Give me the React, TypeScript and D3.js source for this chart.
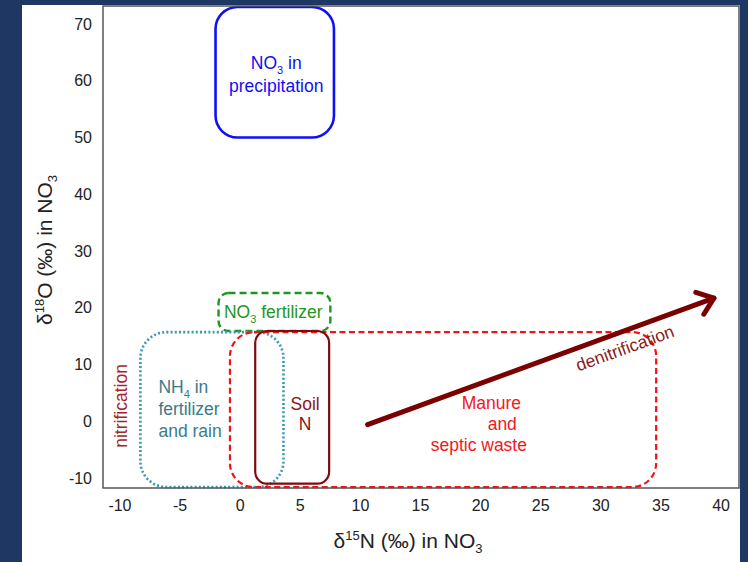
import React from "react";
import * as d3 from "d3";

const W = 748, H = 562;
const xTicks = [-10, -5, 0, 5, 10, 15, 20, 25, 30, 35, 40];
const yTicks = [-10, 0, 10, 20, 30, 40, 50, 60, 70];
const xDomain = [-11.41, 41.49];
const yDomain = [-11.76, 73.17];

// source regions: [x0, x1, y0, y1] in per-mil
const regionNames = ["precip", "fert", "nh4", "manure", "soil"];
const regionX0 = [-2.05, -1.8, -8.3, -0.85, 1.25];
const regionX1 = [7.8, 7.5, 3.6, 34.6, 7.4];
const regionY0 = [50, 15.9, -11.6, -11.6, -11.0];
const regionY1 = [73.0, 22.6, 15.7, 15.7, 15.9];

const arrowStart = [10.6, -0.6];
const arrowEnd = [39.4, 21.7];

const FONT = "'Liberation Sans', Arial, Helvetica, sans-serif";

export default function App() {
  const x = d3.scaleLinear().domain(xDomain).range([103, 739]);
  const y = d3.scaleLinear().domain(yDomain).range([488, 6]);

  const styles: Record<string, any> = {
    precip: { stroke: "#1010f5", sw: 2.6, dash: null, rx: 22 },
    fert: { stroke: "#1f961f", sw: 2.4, dash: "7 4", rx: 10 },
    nh4: { stroke: "#3d96b3", sw: 2.6, dash: "2 2.2", rx: 26 },
    manure: { stroke: "#f0141a", sw: 2.2, dash: "6 3.5", rx: 24 },
    soil: { stroke: "#7d0c0c", sw: 2.2, dash: null, rx: 12 },
  };

  const ax = x(arrowStart[0]), ay = y(arrowStart[1]);
  const bx = x(arrowEnd[0]), by = y(arrowEnd[1]);
  const ang = Math.atan2(by - ay, bx - ax);
  const wing = 19, wa = (38 * Math.PI) / 180;
  const w1 = [bx - wing * Math.cos(ang - wa), by - wing * Math.sin(ang - wa)];
  const w2 = [bx - wing * Math.cos(ang + wa), by - wing * Math.sin(ang + wa)];
  const angDeg = (ang * 180) / Math.PI;

  return (
    <svg width={W} height={H} style={{ position: "absolute", left: 0, top: 0 }} fontFamily={FONT}>
      <rect x={0} y={0} width={W} height={H} fill="#1f3763" />
      <rect x={22} y={5} width={718} height={H - 5} fill="#ffffff" />

      {/* regions */}
      {regionNames.map((n, i) => {
        const s = styles[n];
        const x0 = x(regionX0[i]), x1 = x(regionX1[i]);
        const y0 = y(regionY1[i]), y1 = y(regionY0[i]);
        return (
          <rect key={n} x={x0} y={y0} width={x1 - x0} height={y1 - y0} rx={s.rx} ry={s.rx}
            fill="none" stroke={s.stroke} strokeWidth={s.sw}
            strokeDasharray={s.dash || undefined} strokeLinecap={n === "nh4" ? "butt" : "butt"} />
        );
      })}

      {/* frame */}
      <rect x={103} y={6} width={636} height={482} fill="none" stroke="#555" strokeWidth={1.5} />

      {/* ticks */}
      {xTicks.map((t) => (
        <text key={"x" + t} x={x(t)} y={511} textAnchor="middle" fontSize={16} fill="#222">{t}</text>
      ))}
      {yTicks.map((t) => (
        <text key={"y" + t} x={92} y={y(t)} dy="0.35em" textAnchor="end" fontSize={16} fill="#222">{t}</text>
      ))}

      {/* axis titles */}
      <text x={408} y={548} textAnchor="middle" fontSize={21} fill="#222">
        δ<tspan fontSize={13} dy={-8}>15</tspan><tspan dy={8}>N (‰) in NO</tspan><tspan fontSize={13} dy={5}>3</tspan>
      </text>
      <text transform={`translate(52,250) rotate(-90)`} textAnchor="middle" fontSize={21} fill="#222">
        δ<tspan fontSize={13} dy={-8}>18</tspan><tspan dy={8}>O (‰) in NO</tspan><tspan fontSize={13} dy={5}>3</tspan>
      </text>

      {/* arrow */}
      <g stroke="#7b0000" strokeWidth={5} fill="none" strokeLinecap="round" strokeLinejoin="round">
        <line x1={ax} y1={ay} x2={bx} y2={by} />
        <polyline points={`${w1[0]},${w1[1]} ${bx},${by} ${w2[0]},${w2[1]}`} />
      </g>

      {/* labels */}
      <g fontSize={17.5}>
        <text x={x(3.0)} y={y(63.1)} dy="0.35em" textAnchor="middle" fill="#1010f5">
          NO<tspan fontSize={11} dy={5}>3</tspan><tspan dy={-5}> in</tspan>
        </text>
        <text x={x(3.0)} y={y(59.1)} dy="0.35em" textAnchor="middle" fill="#1010f5">precipitation</text>

        <text x={x(2.75)} y={y(19.3)} dy="0.35em" textAnchor="middle" fill="#1f961f">
          NO<tspan fontSize={11} dy={5}>3</tspan><tspan dy={-5}> fertilizer</tspan>
        </text>

        <text x={x(-6.8)} y={y(6.03)} dy="0.35em" fill="#3a7b8a">
          NH<tspan fontSize={11} dy={5}>4</tspan><tspan dy={-5}> in</tspan>
        </text>
        <text x={x(-6.8)} y={y(2.16)} dy="0.35em" fill="#3a7b8a">fertilizer</text>
        <text x={x(-6.8)} y={y(-1.72)} dy="0.35em" fill="#3a7b8a">and rain</text>

        <text x={x(20.9)} y={y(3.2)} dy="0.35em" textAnchor="middle" fill="#f5161c">Manure</text>
        <text x={x(21.8)} y={y(-0.5)} dy="0.35em" textAnchor="middle" fill="#f5161c">and</text>
        <text x={x(19.85)} y={y(-4.19)} dy="0.35em" textAnchor="middle" fill="#f5161c">septic waste</text>

        <text x={x(5.4)} y={y(3.04)} dy="0.35em" textAnchor="middle" fill="#8b1515">Soil</text>
        <text x={x(5.4)} y={y(-0.48)} dy="0.35em" textAnchor="middle" fill="#8b1515">N</text>

        <text transform={`translate(${x(32.0)},${y(12.9)}) rotate(${angDeg})`} dy="0.35em"
          textAnchor="middle" fill="#8b1a1a">denitrification</text>
        <text transform={`translate(${x(-9.9)},${y(2.7)}) rotate(-90)`} dy="0.35em"
          textAnchor="middle" fill="#a3242a">nitrification</text>
      </g>
    </svg>
  );
}
